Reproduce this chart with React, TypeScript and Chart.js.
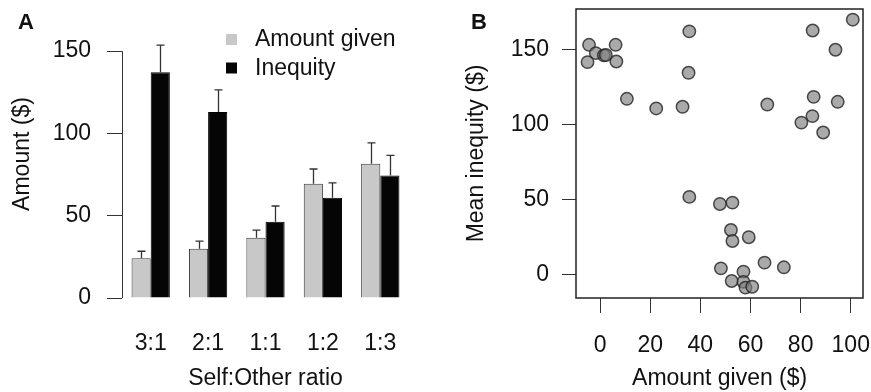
import React, { useEffect, useRef } from "react";
import { Chart, registerables } from "chart.js";

Chart.register(...registerables);

// ---------- Panel A data ----------
const ratioCategories = ["3:1", "2:1", "1:1", "1:2", "1:3"];
const amountGivenMean = [24.1, 30.0, 36.6, 69.4, 81.6];
const amountGivenSE = [4.3, 4.6, 4.7, 9.0, 12.6];
const inequityMean = [137.1, 113.0, 46.4, 60.9, 74.5];
const inequitySE = [16.6, 13.5, 9.5, 9.1, 12.2];
const yTicksA = [0, 50, 100, 150];
const legendLabels = ["Amount given", "Inequity"];

// ---------- Panel B data ----------
const amountGivenPts = [
  -4.4, 6.2, -1.7, 1.5, 2.3, -5.0, 6.5,
  10.7, 22.4, 32.9, 35.6, 35.3, 66.7,
  84.8, 100.8, 93.9, 85.2, 94.8, 84.7, 80.3, 89.0,
  35.6, 47.8, 52.8, 52.2, 52.8, 59.3, 65.6, 73.3, 48.2, 57.2, 52.5, 57.2, 58.0, 60.7,
];
const meanInequityPts = [
  153.0, 153.0, 147.5, 146.0, 146.2, 141.5, 141.9,
  117.1, 110.7, 111.8, 161.9, 134.4, 113.3,
  162.5, 169.7, 149.7, 118.4, 115.1, 105.6, 101.3, 94.7,
  51.9, 47.2, 48.1, 29.9, 22.6, 25.1, 8.2, 5.1, 4.4, 2.2, -4.0, -4.6, -8.4, -7.8,
];
const xTicksB = [0, 20, 40, 60, 80, 100];
const yTicksB = [0, 50, 100, 150];

const FONT = "'Liberation Sans', Arial, Helvetica, sans-serif";
const TXT = "#111";
const AX = "#333";

const noPadX = (h: number) => (s: any) => { s.height = h; s.paddingLeft = 0; s.paddingRight = 0; };
const noPadY = (w: number) => (s: any) => { s.width = w; s.paddingTop = 0; s.paddingBottom = 0; };

function ChartA() {
  const ref = useRef<HTMLCanvasElement>(null);
  useEffect(() => {
    const font = { family: FONT, size: 23 };
    const errPlugin = {
      id: "errbars",
      afterDatasetsDraw(chart: any) {
        const ctx = chart.ctx;
        const ys = chart.scales.y;
        const ses = [amountGivenSE, inequitySE];
        const means = [amountGivenMean, inequityMean];
        ctx.save();
        ctx.strokeStyle = AX;
        ctx.lineWidth = 1.3;
        chart.data.datasets.forEach((_: any, di: number) => {
          const meta = chart.getDatasetMeta(di);
          meta.data.forEach((bar: any, i: number) => {
            const yTop = ys.getPixelForValue(means[di][i] + ses[di][i]);
            const x = Math.round(bar.x) + 0.5;
            ctx.beginPath();
            ctx.moveTo(x, bar.y);
            ctx.lineTo(x, yTop);
            ctx.moveTo(x - 4, yTop);
            ctx.lineTo(x + 4, yTop);
            ctx.stroke();
          });
        });
        ctx.restore();
      },
    };
    const decoPlugin = {
      id: "decoA",
      afterDraw(chart: any) {
        const ctx = chart.ctx;
        const ys = chart.scales.y;
        const x = Math.round(chart.chartArea.left) + 0.5;
        ctx.save();
        ctx.strokeStyle = AX;
        ctx.lineWidth = 1;
        ctx.beginPath();
        ctx.moveTo(x, ys.getPixelForValue(yTicksA[0]));
        ctx.lineTo(x, ys.getPixelForValue(yTicksA[yTicksA.length - 1]));
        ctx.stroke();
        // legend
        const colors = ["#c8c8c8", "#050505"];
        ctx.font = `23px ${FONT}`;
        ctx.textBaseline = "middle";
        legendLabels.forEach((lab, i) => {
          const y = 40 + i * 28.5;
          ctx.fillStyle = colors[i];
          ctx.fillRect(226, y - 6, 11, 11);
          ctx.fillStyle = TXT;
          ctx.fillText(lab, 255, y);
        });
        // panel letter
        ctx.fillStyle = TXT;
        ctx.font = `bold 22px ${FONT}`;
        ctx.textBaseline = "alphabetic";
        ctx.fillText("A", 18, 29);
        ctx.restore();
      },
    };
    const chart = new Chart(ref.current!, {
      type: "bar",
      data: {
        labels: ratioCategories,
        datasets: [
          {
            label: legendLabels[0],
            data: amountGivenMean,
            backgroundColor: "#c8c8c8",
            borderColor: "#3a3a3a",
            borderWidth: 1,
            categoryPercentage: 0.667,
            barPercentage: 1,
          },
          {
            label: legendLabels[1],
            data: inequityMean,
            backgroundColor: "#050505",
            borderColor: "#000",
            borderWidth: 1,
            categoryPercentage: 0.667,
            barPercentage: 1,
          },
        ],
      },
      options: {
        animation: false,
        responsive: false,
        layout: { padding: { top: 10, right: 26, left: 0, bottom: 0 } },
        plugins: { legend: { display: false }, tooltip: { enabled: false } },
        scales: {
          x: {
            type: "category",
            offset: true,
            grid: { display: false },
            border: { display: false },
            ticks: { font, color: TXT, padding: 24, maxRotation: 0 },
            title: { display: true, text: "Self:Other ratio", font, color: TXT, padding: { top: -2, bottom: 0 } },
            afterFit: noPadX(94),
          },
          y: {
            min: 0,
            max: 175,
            grid: { display: true, drawOnChartArea: false, drawTicks: true, tickLength: 15, color: AX, lineWidth: 1 },
            border: { display: false },
            afterBuildTicks: (s: any) => { s.ticks = yTicksA.map((v) => ({ value: v })); },
            ticks: { font, color: TXT, padding: 16 },
            title: { display: true, text: "Amount ($)", font, color: TXT, padding: { top: 9, bottom: 0 } },
            afterFit: noPadY(122),
          },
        },
      },
      plugins: [errPlugin, decoPlugin],
    } as any);
    return () => chart.destroy();
  }, []);
  return <canvas ref={ref} width={435} height={392} style={{ position: "absolute", left: 0, top: 0 }} />;
}

function ChartB() {
  const ref = useRef<HTMLCanvasElement>(null);
  useEffect(() => {
    const font = { family: FONT, size: 23 };
    const boxPlugin = {
      id: "boxB",
      afterDraw(chart: any) {
        const ctx = chart.ctx;
        const a = chart.chartArea;
        ctx.save();
        ctx.strokeStyle = "#222";
        ctx.lineWidth = 1.5;
        ctx.strokeRect(Math.round(a.left), Math.round(a.top), Math.round(a.right - a.left), Math.round(a.bottom - a.top));
        ctx.fillStyle = TXT;
        ctx.font = `bold 22px ${FONT}`;
        ctx.fillText("B", 36, 29);
        ctx.restore();
      },
    };
    const chart = new Chart(ref.current!, {
      type: "scatter",
      data: {
        datasets: [
          {
            label: "Participants",
            data: amountGivenPts.map((x, i) => ({ x, y: meanInequityPts[i] })),
            pointRadius: 6.2,
            backgroundColor: "rgba(124,124,124,0.65)",
            borderColor: "rgba(35,35,35,0.8)",
            borderWidth: 1.5,
            clip: false,
          },
        ],
      },
      options: {
        animation: false,
        responsive: false,
        layout: { padding: { top: 9, right: 6, left: 0, bottom: 0 } },
        plugins: { legend: { display: false }, tooltip: { enabled: false } },
        scales: {
          x: {
            type: "linear",
            min: -9.6,
            max: 105,
            grid: { display: true, drawOnChartArea: false, drawTicks: true, tickLength: 15, color: AX, lineWidth: 1 },
            border: { display: false },
            afterBuildTicks: (s: any) => { s.ticks = xTicksB.map((v) => ({ value: v })); },
            ticks: { font, color: TXT, padding: 19, maxRotation: 0 },
            title: { display: true, text: "Amount given ($)", font, color: TXT, padding: { top: -2, bottom: 0 } },
            afterFit: noPadX(94),
          },
          y: {
            type: "linear",
            min: -15.3,
            max: 176.8,
            grid: { display: true, drawOnChartArea: false, drawTicks: true, tickLength: 14, color: AX, lineWidth: 1 },
            border: { display: false },
            afterBuildTicks: (s: any) => { s.ticks = yTicksB.map((v) => ({ value: v })); },
            ticks: { font, color: TXT, padding: 13 },
            title: { display: true, text: "Mean inequity ($)", font, color: TXT, padding: { top: 28, bottom: 0 } },
            afterFit: noPadY(141),
          },
        },
      },
      plugins: [boxPlugin],
    } as any);
    return () => chart.destroy();
  }, []);
  return <canvas ref={ref} width={436} height={392} style={{ position: "absolute", left: 435, top: 0 }} />;
}

export default function App() {
  return (
    <div style={{ position: "fixed", left: 0, top: 0, width: 871, height: 392, background: "#fff", overflow: "hidden" }}>
      <ChartA />
      <ChartB />
    </div>
  );
}
